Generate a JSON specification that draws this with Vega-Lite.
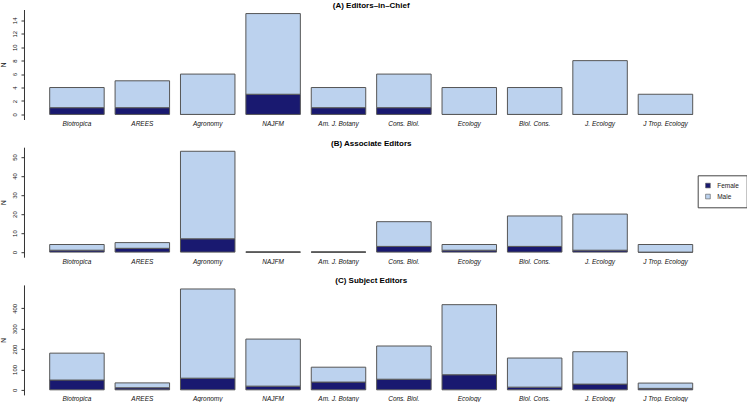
{
  "$schema": "https://vega.github.io/schema/vega-lite/v6.json",
  "padding": {"left": 0, "top": 1.5, "right": 0, "bottom": 0},
  "autosize": {"type": "pad"},
  "bounds": "flush",
  "spacing": 27.7,
  "config": {
    "font": "Liberation Sans",
    "view": {"stroke": null},
    "title": {"fontSize": 8, "fontWeight": "bold", "anchor": "middle", "offset": -0.5, "baseline": "alphabetic", "color": "#000", "font": "Liberation Sans"},
    "axisX": {"ticks": false, "domain": false, "labelAngle": 0, "labelFontStyle": "italic", "labelFontSize": 6.5, "labelPadding": 1, "labelBaseline": "top", "labelColor": "#111", "title": null, "labelFont": "Liberation Sans"},
    "axisY": {"grid": false, "domainColor": "#333", "tickColor": "#333", "tickSize": 3, "labelAngle": 270, "labelAlign": "center", "labelBaseline": "bottom", "labelPadding": 3.5, "labelFontSize": 6, "labelColor": "#111", "titleFontSize": 6.5, "titleFontWeight": "normal", "titlePadding": 5, "titleColor": "#111", "labelFont": "Liberation Sans", "titleFont": "Liberation Sans"},
    "legend": {"orient": "none", "legendX": 673.7, "legendY": 165.8, "title": null, "strokeColor": "#444", "strokeWidth": 1, "padding": 7, "symbolType": "square", "symbolSize": 22, "symbolStrokeColor": "#555", "symbolStrokeWidth": 0.6, "labelFontSize": 6.5, "labelColor": "#222", "labelOffset": 6, "rowPadding": 3, "labelFont": "Liberation Sans"}
  },
  "vconcat": [
    {
      "title": "(A) Editors–in–Chief",
      "width": 694.4,
      "height": 110,
      "data": {"values": [
        {"journal": "Biotropica", "sex": "Female", "n": 1}, {"journal": "Biotropica", "sex": "Male", "n": 3},
        {"journal": "AREES", "sex": "Female", "n": 1}, {"journal": "AREES", "sex": "Male", "n": 4},
        {"journal": "Agronomy", "sex": "Female", "n": 0}, {"journal": "Agronomy", "sex": "Male", "n": 6},
        {"journal": "NAJFM", "sex": "Female", "n": 3}, {"journal": "NAJFM", "sex": "Male", "n": 12},
        {"journal": "Am. J. Botany", "sex": "Female", "n": 1}, {"journal": "Am. J. Botany", "sex": "Male", "n": 3},
        {"journal": "Cons. Biol.", "sex": "Female", "n": 1}, {"journal": "Cons. Biol.", "sex": "Male", "n": 5},
        {"journal": "Ecology", "sex": "Female", "n": 0}, {"journal": "Ecology", "sex": "Male", "n": 4},
        {"journal": "Biol. Cons.", "sex": "Female", "n": 0}, {"journal": "Biol. Cons.", "sex": "Male", "n": 4},
        {"journal": "J. Ecology", "sex": "Female", "n": 0}, {"journal": "J. Ecology", "sex": "Male", "n": 8},
        {"journal": "J Trop. Ecology", "sex": "Female", "n": 0}, {"journal": "J Trop. Ecology", "sex": "Male", "n": 3}
      ]},
      "mark": {"type": "bar", "stroke": "#555", "strokeWidth": 1},
      "encoding": {
        "x": {"field": "journal", "type": "nominal", "sort": ["Biotropica", "AREES", "Agronomy", "NAJFM", "Am. J. Botany", "Cons. Biol.", "Ecology", "Biol. Cons.", "J. Ecology", "J Trop. Ecology"], "scale": {"paddingInner": 0.1667, "paddingOuter": 0.393}},
        "y": {"field": "n", "type": "quantitative", "stack": "zero", "scale": {"domain": [-0.756, 15.606], "nice": false, "zero": false}, "axis": {"values": [0, 2, 4, 6, 8, 10, 12, 14], "title": "N"}},
        "color": {"field": "sex", "type": "nominal", "scale": {"domain": ["Female", "Male"], "range": ["#191970", "#BCD2EE"]}},
        "order": {"field": "sex", "sort": "ascending"}
      }
    },
    {
      "title": "(B) Associate Editors",
      "width": 694.4,
      "height": 110,
      "data": {"values": [
        {"journal": "Biotropica", "sex": "Female", "n": 1}, {"journal": "Biotropica", "sex": "Male", "n": 3},
        {"journal": "AREES", "sex": "Female", "n": 2}, {"journal": "AREES", "sex": "Male", "n": 3},
        {"journal": "Agronomy", "sex": "Female", "n": 7}, {"journal": "Agronomy", "sex": "Male", "n": 46},
        {"journal": "NAJFM", "sex": "Female", "n": 0}, {"journal": "NAJFM", "sex": "Male", "n": 0},
        {"journal": "Am. J. Botany", "sex": "Female", "n": 0}, {"journal": "Am. J. Botany", "sex": "Male", "n": 0},
        {"journal": "Cons. Biol.", "sex": "Female", "n": 3}, {"journal": "Cons. Biol.", "sex": "Male", "n": 13},
        {"journal": "Ecology", "sex": "Female", "n": 1}, {"journal": "Ecology", "sex": "Male", "n": 3},
        {"journal": "Biol. Cons.", "sex": "Female", "n": 3}, {"journal": "Biol. Cons.", "sex": "Male", "n": 16},
        {"journal": "J. Ecology", "sex": "Female", "n": 1}, {"journal": "J. Ecology", "sex": "Male", "n": 19},
        {"journal": "J Trop. Ecology", "sex": "Female", "n": 0}, {"journal": "J Trop. Ecology", "sex": "Male", "n": 4}
      ]},
      "mark": {"type": "bar", "stroke": "#555", "strokeWidth": 1},
      "encoding": {
        "x": {"field": "journal", "type": "nominal", "sort": ["Biotropica", "AREES", "Agronomy", "NAJFM", "Am. J. Botany", "Cons. Biol.", "Ecology", "Biol. Cons.", "J. Ecology", "J Trop. Ecology"], "scale": {"paddingInner": 0.1667, "paddingOuter": 0.393}},
        "y": {"field": "n", "type": "quantitative", "stack": "zero", "scale": {"domain": [-2.67, 55.14], "nice": false, "zero": false}, "axis": {"values": [0, 10, 20, 30, 40, 50], "title": "N"}},
        "color": {"field": "sex", "type": "nominal", "scale": {"domain": ["Female", "Male"], "range": ["#191970", "#BCD2EE"]}},
        "order": {"field": "sex", "sort": "ascending"}
      }
    },
    {
      "title": "(C) Subject Editors",
      "width": 694.4,
      "height": 110,
      "data": {"values": [
        {"journal": "Biotropica", "sex": "Female", "n": 48}, {"journal": "Biotropica", "sex": "Male", "n": 132},
        {"journal": "AREES", "sex": "Female", "n": 10}, {"journal": "AREES", "sex": "Male", "n": 24},
        {"journal": "Agronomy", "sex": "Female", "n": 57}, {"journal": "Agronomy", "sex": "Male", "n": 438},
        {"journal": "NAJFM", "sex": "Female", "n": 18}, {"journal": "NAJFM", "sex": "Male", "n": 231},
        {"journal": "Am. J. Botany", "sex": "Female", "n": 38}, {"journal": "Am. J. Botany", "sex": "Male", "n": 73},
        {"journal": "Cons. Biol.", "sex": "Female", "n": 52}, {"journal": "Cons. Biol.", "sex": "Male", "n": 163},
        {"journal": "Ecology", "sex": "Female", "n": 74}, {"journal": "Ecology", "sex": "Male", "n": 344},
        {"journal": "Biol. Cons.", "sex": "Female", "n": 13}, {"journal": "Biol. Cons.", "sex": "Male", "n": 143},
        {"journal": "J. Ecology", "sex": "Female", "n": 28}, {"journal": "J. Ecology", "sex": "Male", "n": 159},
        {"journal": "J Trop. Ecology", "sex": "Female", "n": 7}, {"journal": "J Trop. Ecology", "sex": "Male", "n": 26}
      ]},
      "mark": {"type": "bar", "stroke": "#555", "strokeWidth": 1},
      "encoding": {
        "x": {"field": "journal", "type": "nominal", "sort": ["Biotropica", "AREES", "Agronomy", "NAJFM", "Am. J. Botany", "Cons. Biol.", "Ecology", "Biol. Cons.", "J. Ecology", "J Trop. Ecology"], "scale": {"paddingInner": 0.1667, "paddingOuter": 0.393}},
        "y": {"field": "n", "type": "quantitative", "stack": "zero", "scale": {"domain": [-24.95, 515], "nice": false, "zero": false}, "axis": {"values": [0, 100, 200, 300, 400], "title": "N"}},
        "color": {"field": "sex", "type": "nominal", "scale": {"domain": ["Female", "Male"], "range": ["#191970", "#BCD2EE"]}},
        "order": {"field": "sex", "sort": "ascending"}
      }
    }
  ]
}
